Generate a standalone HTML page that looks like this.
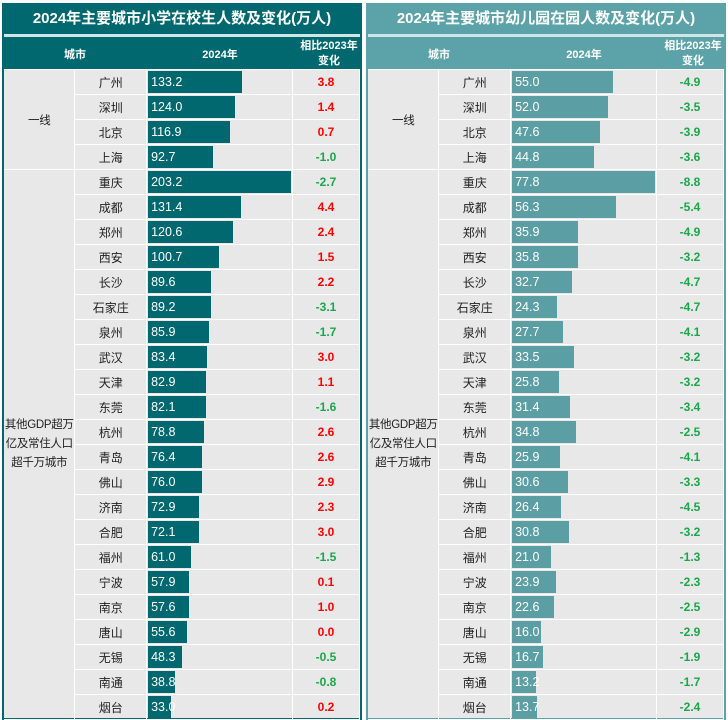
<!DOCTYPE html>
<html><head><meta charset="utf-8">
<style>
body{margin:0;width:728px;height:720px;background:#fff;position:relative;overflow:hidden;font-family:"Liberation Sans","Noto Sans CJK SC",sans-serif;}
.p{position:absolute;top:3px;width:360px;height:717px;box-sizing:border-box;background:#e8e8e8;}
.t{position:absolute;left:0;top:0;width:100%;height:31px;color:#fff;font-weight:bold;font-size:15px;text-align:center;line-height:31px;}
.ln{position:absolute;left:0;top:31px;width:100%;height:3px;background:#cfe5e6;}
.h{position:absolute;left:0;top:34px;width:100%;height:32px;color:#fff;font-weight:bold;font-size:11px;}
.h div{position:absolute;text-align:center;}
table{position:absolute;left:0;top:66px;border-collapse:collapse;table-layout:fixed;}
td{height:24px;border:1px solid #fff;padding:0;font-size:12px;text-align:center;color:#222;}
td.b{text-align:left;padding-left:1px;}
.bar{height:22px;color:#fff;font-size:12.5px;line-height:22px;padding-left:3px;box-sizing:border-box;white-space:nowrap;}
.r{color:#f00;font-weight:bold;}.g{color:#1aa64a;font-weight:bold;}
td.grp{border-left:none;white-space:nowrap;font-size:11.5px;letter-spacing:-0.3px;}
</style></head><body>
<div class="p" id="L" style="left:2px;border:2px solid #00686e;border-top:none;">
<div class="t" style="background:#00686e">2024年主要城市小学在校生人数及变化(万人)</div><div class="ln"></div>
<div class="h" style="background:#00686e"><div style="left:0;width:142px;top:9px">城市</div><div style="left:142px;width:148px;top:9px">2024年</div><div style="left:290px;width:70px;top:2px;line-height:15px">相比2023年<br>变化</div></div>
<table id="TL"><colgroup><col style="width:71px"><col style="width:73px"><col style="width:146px"><col style="width:68px"></colgroup><tbody></tbody></table>
</div>
<div class="p" id="R" style="left:366px;border:2px solid #5ba3a8;border-top:none;">
<div class="t" style="background:#5ba3a8">2024年主要城市幼儿园在园人数及变化(万人)</div><div class="ln"></div>
<div class="h" style="background:#5ba3a8"><div style="left:0;width:142px;top:9px">城市</div><div style="left:142px;width:148px;top:9px">2024年</div><div style="left:290px;width:70px;top:2px;line-height:15px">相比2023年<br>变化</div></div>
<table id="TR"><colgroup><col style="width:71px"><col style="width:73px"><col style="width:146px"><col style="width:68px"></colgroup><tbody></tbody></table>
</div>
<script>
var cities=["广州","深圳","北京","上海","重庆","成都","郑州","西安","长沙","石家庄","泉州","武汉","天津","东莞","杭州","青岛","佛山","济南","合肥","福州","宁波","南京","唐山","无锡","南通","烟台"];
var L=[[133.2,"3.8"],[124.0,"1.4"],[116.9,"0.7"],[92.7,"-1.0"],[203.2,"-2.7"],[131.4,"4.4"],[120.6,"2.4"],[100.7,"1.5"],[89.6,"2.2"],[89.2,"-3.1"],[85.9,"-1.7"],[83.4,"3.0"],[82.9,"1.1"],[82.1,"-1.6"],[78.8,"2.6"],[76.4,"2.6"],[76.0,"2.9"],[72.9,"2.3"],[72.1,"3.0"],[61.0,"-1.5"],[57.9,"0.1"],[57.6,"1.0"],[55.6,"0.0"],[48.3,"-0.5"],[38.8,"-0.8"],[33.0,"0.2"]];
var R=[[55.0,"-4.9"],[52.0,"-3.5"],[47.6,"-3.9"],[44.8,"-3.6"],[77.8,"-8.8"],[56.3,"-5.4"],[35.9,"-4.9"],[35.8,"-3.2"],[32.7,"-4.7"],[24.3,"-4.7"],[27.7,"-4.1"],[33.5,"-3.2"],[25.8,"-3.2"],[31.4,"-3.4"],[34.8,"-2.5"],[25.9,"-4.1"],[30.6,"-3.3"],[26.4,"-4.5"],[30.8,"-3.2"],[21.0,"-1.3"],[23.9,"-2.3"],[22.6,"-2.5"],[16.0,"-2.9"],[16.7,"-1.9"],[13.2,"-1.7"],[13.7,"-2.4"]];
function build(id,d,scale,col){var h="";for(var i=0;i<26;i++){h+="<tr>";if(i==0)h+='<td class="grp" rowspan="4">一线</td>';if(i==4)h+='<td class="grp" rowspan="22" style="line-height:19px">其他GDP超万<br>亿及常住人口<br>超千万城市</td>';var w=Math.round(d[i][0]*scale);h+="<td>"+cities[i]+'</td><td class="b"><div class="bar" style="width:'+w+'px;background:'+col+'">'+d[i][0].toFixed(1)+'</div></td><td class="'+(d[i][1].charAt(0)=="-"?"g":"r")+'">'+d[i][1]+"</td></tr>";}document.querySelector("#"+id+" tbody").innerHTML=h;}
build("TL",L,0.705,"#00686e");build("TR",R,1.84,"#5b9ea3");
</script>
</body></html>
